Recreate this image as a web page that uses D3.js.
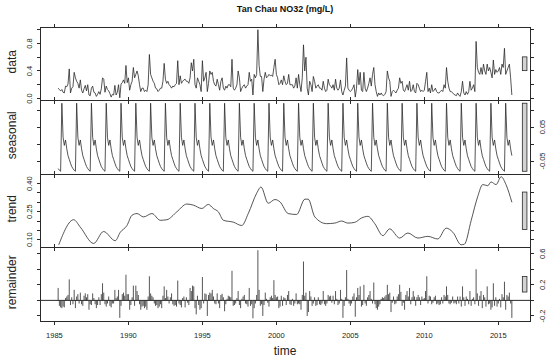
<!DOCTYPE html>
<html><head><meta charset="utf-8">
<script src="https://cdn.jsdelivr.net/npm/d3@7"></script>
<style>body{margin:0;background:#fff}svg{display:block}</style>
</head><body>
<svg id="c" width="550" height="360"></svg>
<script>
const chartTitle = "Tan Chau NO32 (mg/L)";
const xLabel = "time";
const panelNames = ["data", "seasonal", "trend", "remainder"];
const startYear = 1985, startMonthIndex = 3; // series starts April 1985, monthly
const xTicks = [1985, 1990, 1995, 2000, 2005, 2010, 2015];

// observed data, monthly Apr 1985 .. Dec 2015
const dataValues = [
  .15,.13,.11,.13,.09,.08,.18,.17,.21,
  .43,.08,.15,.17,.38,.30,.25,.22,.15,.27,.12,.08,
  .14,.19,.11,.20,.05,.04,.15,.18,.09,.08,.03,.06,
  .10,.06,.14,.30,.28,.09,.18,.13,.11,.07,.02,.06,
  .05,.19,.05,.09,.20,.01,.21,.23,.27,.22,.48,.23,
  .30,.12,.20,.25,.45,.30,.35,.40,.33,.20,.10,.15,
  .15,.10,.12,.10,.20,.64,.35,.30,.25,.22,.15,.14,
  .10,.12,.15,.15,.25,.51,.28,.22,.25,.20,.18,.15,
  .18,.17,.20,.22,.55,.20,.33,.22,.25,.27,.28,.25,
  .25,.22,.30,.52,.40,.57,.20,.15,.30,.25,.20,.10,
  .55,.25,.30,.38,.10,.22,.40,.35,.38,.25,.20,.18,
  .28,.20,.12,.25,.30,.15,.12,.18,.15,.20,.20,.17,
  .57,.15,.12,.15,.20,.40,.30,.10,.15,.18,.20,.15,
  .18,.20,.38,.25,.28,.05,.35,.30,.35,1.00,.48,.32,
  .32,.10,.28,.38,.30,.32,.35,.33,.34,.32,.45,.57,
  .35,.30,.20,.22,.27,.20,.33,.25,.20,.22,.35,.20,
  .20,.20,.15,.18,.30,.15,.35,.20,.10,.30,.78,.40,
  .60,.15,.05,.25,.20,.10,.32,.25,.15,.18,.20,.15,
  .15,.12,.25,.15,.10,.12,.28,.20,.18,.15,.20,.12,
  .28,.15,.12,.15,.27,.10,.05,.12,.18,.59,.15,.12,
  .10,.12,.15,.20,.02,.15,.42,.20,.38,.12,.10,.38,
  .15,.10,.15,.22,.30,.18,.35,.45,.20,.10,.03,.08,
  .05,.08,.05,.04,.06,.10,.40,.30,.25,.03,.10,.12,
  .10,.08,.12,.15,.30,.22,.25,.12,.10,.15,.20,.12,
  .25,.10,.12,.20,.10,.08,.22,.20,.15,.10,.12,.10,
  .12,.25,.38,.10,.15,.08,.20,.10,.12,.15,.10,.08,
  .08,.10,.12,.10,.20,.15,.45,.25,.15,.10,.10,.08,
  .06,.05,.04,.08,.05,.03,.10,.25,.08,.05,.10,.06,
  .10,.25,.12,.15,.20,.10,.83,.45,.38,.35,.45,.35,
  .50,.40,.35,.50,.40,.45,.38,.30,.56,.35,.42,.38,
  .40,.45,.35,.50,.45,.73,.35,.40,.45,.50,.30,.05
];

// periodic seasonal component, Jan .. Dec
const seasonalPattern = [-0.045, -0.056, -0.066, -0.072, -0.077, -0.080, 0.120, 0.020, -0.004, 0.012, -0.014, -0.034];

// trend component (read at its turning points)
const trendYears = [1985.29,1986.30,1986.75,1987.65,1988.32,1989.11,1989.45,1989.90,1990.24,1990.58,1991.02,1991.59,1992.15,1992.60,1993.27,1993.95,1994.39,1994.96,1995.40,1995.74,1996.08,1996.42,1997.09,1997.66,1998.10,1998.67,1998.96,1999.45,1999.90,2000.24,2000.80,2001.37,2001.93,2002.15,2002.60,2003.39,2003.95,2004.40,2004.84,2005.30,2005.75,2006.19,2006.65,2007.20,2007.66,2008.33,2008.89,2009.56,2010.24,2010.91,2011.48,2011.93,2012.49,2012.71,2013.17,2013.61,2013.95,2014.29,2014.51,2014.85,2015.19,2015.52,2015.92];
const trendValues = [0.073,0.207,0.167,0.080,0.144,0.095,0.140,0.176,0.231,0.240,0.222,0.240,0.204,0.207,0.249,0.291,0.285,0.267,0.289,0.267,0.249,0.204,0.194,0.176,0.240,0.349,0.382,0.295,0.315,0.303,0.240,0.235,0.317,0.317,0.222,0.186,0.189,0.200,0.189,0.193,0.216,0.225,0.186,0.122,0.158,0.109,0.136,0.109,0.118,0.104,0.162,0.140,0.073,0.076,0.204,0.331,0.395,0.389,0.409,0.395,0.437,0.395,0.300];

// remainder component, monthly Apr 1985 .. Dec 2015
const remainderValues = [
  .16,-.07,-.09,-.10,-.08,-.09,.03,.05,.07,
  .27,-.06,.04,-.05,.135,-.10,.05,.08,-.04,.10,-.05,-.07,
  .06,.09,.04,.08,-.12,-.05,-.06,.09,.03,-.05,-.10,-.06,
  .04,-.06,.08,.22,.10,-.05,-.08,-.04,.05,-.07,-.09,-.04,
  -.04,.135,.03,.05,.135,-.225,-.07,.08,.10,.06,.33,.08,
  .08,-.12,-.06,.04,.19,-.07,.19,.12,.07,-.05,-.12,-.08,
  -.07,-.10,-.08,-.12,.05,.31,.09,.06,.04,-.04,-.07,-.06,
  -.10,-.08,-.05,-.10,.06,.18,.03,.135,.05,-.04,.04,.09,
  -.05,-.07,-.06,-.08,.255,-.04,-.06,-.09,.03,.05,-.09,.04,
  -.03,-.06,.16,.12,.19,.18,-.10,-.18,.06,-.06,-.12,-.10,
  .30,-.04,.09,.08,-.20,.07,.10,.09,.135,.05,-.04,-.05,
  .09,-.04,-.10,.07,.085,.04,-.14,-.05,.02,.06,.05,.04,
  .38,-.07,-.06,-.04,.03,.12,-.06,-.10,.02,.05,.07,-.04,
  -.05,-.08,.16,-.07,-.05,-.23,-.10,-.04,.07,.645,.135,-.07,
  -.05,-.20,-.06,.10,.02,-.03,-.08,.04,.06,.03,.26,.07,
  .04,.05,-.10,-.08,.06,-.07,.04,.03,-.06,.07,.12,-.05,
  -.06,.02,-.07,-.04,.09,-.05,-.04,-.05,-.12,.07,.50,.06,
  .10,-.20,-.15,.12,.05,-.07,-.04,.04,-.07,-.06,.04,-.05,
  -.06,-.04,.12,-.05,-.07,-.04,.07,.05,.06,-.03,.06,-.05,
  .12,.02,-.06,-.04,.135,.02,-.225,-.07,.04,.39,.02,-.04,
  -.07,-.04,.05,.09,-.21,.04,.16,.07,.18,-.08,-.06,.20,
  -.04,-.07,.04,.07,.12,.02,-.04,.23,-.05,-.10,-.12,-.08,
  -.05,.02,.04,.03,.05,.07,.20,.08,.10,-.15,-.03,.05,
  -.05,-.04,.05,.08,.20,.11,-.07,-.03,-.12,.07,.12,.05,
  .16,-.05,.04,.12,.05,-.07,.04,.07,.04,-.06,.05,.02,
  .03,.12,.31,-.04,.06,.05,-.05,-.03,.04,.06,-.05,-.04,
  -.06,-.05,.04,-.04,.07,.05,.18,.07,-.04,-.05,-.03,.05,
  -.04,-.03,-.05,.05,-.04,.05,-.08,.18,.04,-.07,.05,.02,
  -.05,.12,-.07,.02,.04,-.05,.40,.09,-.07,.06,.12,-.10,
  .07,.04,-.08,.18,-.05,-.04,-.12,-.09,.22,-.07,.04,-.08,
  -.04,.02,-.09,.08,.04,.24,-.12,.07,.05,.10,-.04,-.225
];

// y-axis ticks and the labels R kept (empty = tick only)
const dataTicks = [0, 0.2, 0.4, 0.6, 0.8, 1.0];
const dataTickLabels = ["0.0", "", "0.4", "", "0.8", ""];
const seasonalTicks = [-0.05, 0, 0.05, 0.10];
const seasonalTickLabels = ["-0.05", "", "0.05", ""];
const trendTicks = [0.10, 0.15, 0.20, 0.25, 0.30, 0.35, 0.40];
const trendTickLabels = ["0.10", "", "", "0.25", "", "", "0.40"];
const remainderTicks = [-0.2, 0, 0.2, 0.4, 0.6];
const remainderTickLabels = ["-0.2", "", "0.2", "", "0.6"];

// ---------------- drawing ----------------
const svg = d3.select("#c");
const font = "'Liberation Sans', Arial, Helvetica, sans-serif";
const L = 40, R = 530, top0 = 27, panelH = 73.5;
const tickLen = 3.5;
const ink = "#2a2a2a";

const times = dataValues.map((d, i) => startYear + (startMonthIndex + i) / 12);
const seasonalValues = dataValues.map((d, i) => seasonalPattern[(startMonthIndex + i) % 12]);

const t0 = d3.min(times), t1 = d3.max(times);
const tpad = (t1 - t0) * 0.04;
const x = d3.scaleLinear().domain([t0 - tpad, t1 + tpad]).range([L, R]);

const panels = [
  {name: panelNames[0], ext: d3.extent(dataValues), ticks: dataTicks, labels: dataTickLabels, side: "left"},
  {name: panelNames[1], ext: d3.extent(seasonalValues), ticks: seasonalTicks, labels: seasonalTickLabels, side: "right"},
  {name: panelNames[2], ext: d3.extent(trendValues), ticks: trendTicks, labels: trendTickLabels, side: "left"},
  {name: panelNames[3], ext: d3.extent(remainderValues), ticks: remainderTicks, labels: remainderTickLabels, side: "right"}
];
const minRange = d3.min(panels, p => p.ext[1] - p.ext[0]);

panels.forEach((p, i) => {
  const top = top0 + i * panelH, bottom = top + panelH;
  const pad = (p.ext[1] - p.ext[0]) * 0.04;
  const y = d3.scaleLinear().domain([p.ext[0] - pad, p.ext[1] + pad]).range([bottom, top]);
  const g = svg.append("g");

  // series
  if (i === 0 || i === 1) {
    const vals = i === 0 ? dataValues : seasonalValues;
    g.append("path")
      .datum(vals)
      .attr("fill", "none").attr("stroke", ink).attr("stroke-width", 0.8)
      .attr("stroke-linejoin", "round")
      .attr("d", d3.line().x((d, k) => x(times[k])).y(d => y(d)));
  } else if (i === 2) {
    g.append("path")
      .datum(trendValues)
      .attr("fill", "none").attr("stroke", ink).attr("stroke-width", 0.8)
      .attr("d", d3.line().x((d, k) => x(trendYears[k])).y(d => y(d)).curve(d3.curveMonotoneX));
  } else {
    g.append("line").attr("x1", L).attr("x2", R).attr("y1", y(0)).attr("y2", y(0))
      .attr("stroke", ink).attr("stroke-width", 1);
    g.selectAll("line.bar").data(remainderValues).join("line").attr("class", "bar")
      .attr("x1", (d, k) => x(times[k])).attr("x2", (d, k) => x(times[k]))
      .attr("y1", y(0)).attr("y2", d => y(d))
      .attr("stroke", ink).attr("stroke-width", 0.8);
  }

  // range bar
  const mid = (p.ext[0] + p.ext[1]) / 2;
  const dx = (R - L) / 64;
  g.append("rect")
    .attr("x", R - dx).attr("width", 0.6 * dx)
    .attr("y", y(mid + minRange / 2)).attr("height", y(mid - minRange / 2) - y(mid + minRange / 2))
    .attr("fill", "#d3d3d3").attr("stroke", ink).attr("stroke-width", 0.8);

  // box
  g.append("rect").attr("x", L).attr("y", top).attr("width", R - L).attr("height", panelH)
    .attr("fill", "none").attr("stroke", ink).attr("stroke-width", 1).attr("shape-rendering", "crispEdges");

  // y ticks both sides
  p.ticks.forEach((tv, k) => {
    const yy = y(tv);
    g.append("line").attr("x1", L).attr("x2", L - tickLen).attr("y1", yy).attr("y2", yy)
      .attr("stroke", ink).attr("shape-rendering", "crispEdges");
    g.append("line").attr("x1", R).attr("x2", R + tickLen).attr("y1", yy).attr("y2", yy)
      .attr("stroke", ink).attr("shape-rendering", "crispEdges");
    if (p.labels[k]) {
      const lx = p.side === "left" ? L - 11 : R + 12;
      g.append("text").attr("transform", `translate(${lx},${yy}) rotate(-90)`)
        .attr("text-anchor", "middle").attr("dy", "0.35em")
        .attr("font-family", font).attr("font-size", 7.5).attr("fill", "#222")
        .text(p.labels[k]);
    }
  });

  // x ticks top and bottom
  xTicks.forEach(xt => {
    g.append("line").attr("x1", x(xt)).attr("x2", x(xt)).attr("y1", top).attr("y2", top - tickLen)
      .attr("stroke", ink).attr("shape-rendering", "crispEdges");
    g.append("line").attr("x1", x(xt)).attr("x2", x(xt)).attr("y1", bottom).attr("y2", bottom + tickLen)
      .attr("stroke", ink).attr("shape-rendering", "crispEdges");
    if (i === panels.length - 1) {
      g.append("text").attr("x", x(xt)).attr("y", bottom + 17)
        .attr("text-anchor", "middle").attr("font-family", font).attr("font-size", 7.5).attr("fill", "#222")
        .text(xt);
    }
  });

  // panel label
  svg.append("text").attr("transform", `translate(12,${(top + bottom) / 2 - 2}) rotate(-90)`)
    .attr("text-anchor", "middle").attr("dy", "0.35em")
    .attr("font-family", font).attr("font-size", 12).attr("fill", "#222")
    .text(p.name);
});

svg.append("text").attr("x", (L + R) / 2).attr("y", 11.5).attr("text-anchor", "middle")
  .attr("font-family", font).attr("font-size", 9).attr("font-weight", "bold").attr("fill", "#111")
  .text(chartTitle);
svg.append("text").attr("x", (L + R) / 2).attr("y", 355).attr("text-anchor", "middle")
  .attr("font-family", font).attr("font-size", 12).attr("fill", "#222")
  .text(xLabel);
</script>
</body></html>
